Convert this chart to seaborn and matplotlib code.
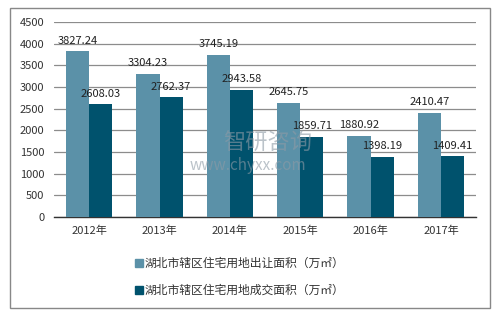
import matplotlib
matplotlib.use("Agg")
import matplotlib.pyplot as plt
import seaborn as sns
import pandas as pd
from matplotlib.patches import Rectangle

years = ["2012年", "2013年", "2014年", "2015年", "2016年", "2017年"]
supply = [3827.24, 3304.23, 3745.19, 2645.75, 1880.92, 2410.47]
deal = [2608.03, 2762.37, 2943.58, 1859.71, 1398.19, 1409.41]
series_names = ["湖北市辖区住宅用地出让面积（万㎡）", "湖北市辖区住宅用地成交面积（万㎡）"]
yticks = [0, 500, 1000, 1500, 2000, 2500, 3000, 3500, 4000, 4500]

df = pd.DataFrame({
    "year": years * 2,
    "value": supply + deal,
    "series": [series_names[0]] * len(years) + [series_names[1]] * len(years),
})

sns.set_theme(style="white")
plt.rcParams['font.family'] = ['Noto Sans CJK SC', 'DejaVu Sans']

fig = plt.figure(figsize=(4.95, 3.12), dpi=100)
ax = fig.add_axes([0.109, 0.304, 0.853, 0.625])
colors = ["#5B91A8", "#00526D"]
sns.barplot(data=df, x="year", y="value", hue="series", palette=colors,
            width=0.66, saturation=1, ax=ax, legend=False, zorder=3, linewidth=0)

ax.set_ylim(0, 4500)
ax.set_yticks(yticks)
ax.set_yticklabels([str(t) for t in yticks], fontsize=8, color="#333333")
ax.tick_params(axis="x", labelsize=8, colors="#333333", length=0, pad=6)
ax.tick_params(axis="y", length=0, pad=7)
ax.set_xlabel("")
ax.set_ylabel("")
ax.yaxis.grid(True, color="#8c8c8c", linewidth=0.9, zorder=0)
ax.set_axisbelow(True)
for s in ["top", "right", "left"]:
    ax.spines[s].set_visible(False)
ax.spines["bottom"].set_color("#333333")
ax.spines["bottom"].set_linewidth(1.0)
ax.set_xlim(-0.5, len(years) - 0.5)

for cont in ax.containers:
    labels = [f"{v:.2f}" for v in cont.datavalues]
    ax.bar_label(cont, labels=labels, padding=4, fontsize=8, color="#222222")

# Legend
for i, name in enumerate(series_names):
    y = 0.157 - i * 0.087
    fig.patches.append(Rectangle((0.273, y - 0.012), 0.016, 0.026, transform=fig.transFigure,
                                 color=colors[i], figure=fig))
    fig.text(0.292, y, name, fontsize=8.5, color="#333333", va="center", ha="left")

# watermark
fig.text(0.54, 0.54, "智研咨询", fontsize=16, color="#8e9ba6", alpha=0.6,
         ha="center", va="center", zorder=10)
fig.text(0.50, 0.47, "www.chyxx.com", fontsize=11, color="#8e9ba6", alpha=0.6,
         ha="center", va="center", zorder=10)

# border
fig.patches.append(Rectangle((10 / 495, 1 - 308 / 312), 480 / 495, 300 / 312, transform=fig.transFigure,
                             fill=False, edgecolor="#888888", linewidth=1.0, figure=fig))

fig.savefig("out.png", dpi=100)
